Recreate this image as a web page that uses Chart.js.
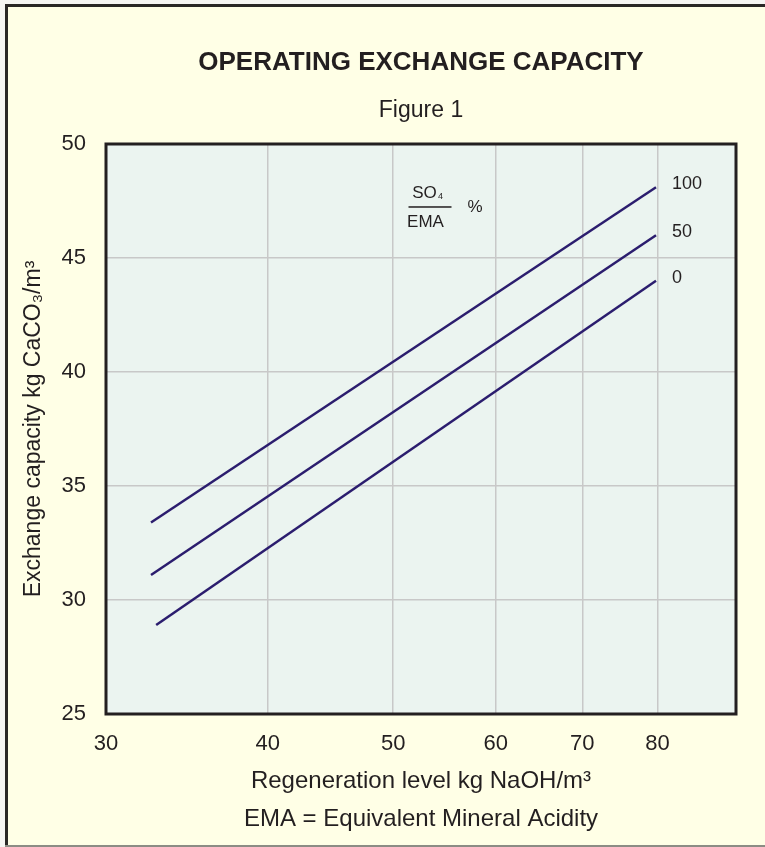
<!DOCTYPE html>
<html>
<head>
<meta charset="utf-8">
<script src="https://cdn.jsdelivr.net/npm/chart.js@4.4.1/dist/chart.umd.min.js"></script>
<style>
  html, body { margin: 0; padding: 0; background: #f6f6f3; }
  #wrap { width: 765px; height: 847px; position: relative; }
  canvas { display: block; }
</style>
</head>
<body>
<div id="wrap"><canvas id="c" width="765" height="847"></canvas></div>
<script>
// ---- data ----
const xTicks = [30, 40, 50, 60, 70, 80];
const yTicks = [25, 30, 35, 40, 45, 50];
const seriesNames = ['100', '50', '0'];
const regen100 = [32.5, 79.8];
const cap100   = [33.4, 48.1];
const regen50  = [32.5, 79.8];
const cap50    = [31.1, 46.0];
const regen0   = [32.8, 79.8];
const cap0     = [28.9, 44.0];
const chartTitle = 'OPERATING EXCHANGE CAPACITY';
const chartSubtitle = 'Figure 1';

const FONT = '"Liberation Sans", Arial, sans-serif';
const INK = '#231f20';
const LINE = '#2b1d6e';

function pts(xs, ys) { return xs.map((v, i) => ({ x: v, y: ys[i] })); }

const bgPlugin = {
  id: 'bg',
  beforeDraw(chart) {
    const { ctx, chartArea: a } = chart;
    ctx.save();
    ctx.fillStyle = '#f6f6f3';
    ctx.fillRect(0, 0, 765, 847);
    ctx.fillStyle = '#ffffe6';
    ctx.fillRect(5, 5, 760, 842);
    ctx.fillStyle = '#2a2826';
    ctx.fillRect(5, 4, 760, 3);
    ctx.fillRect(5, 4, 3, 843);
    ctx.fillStyle = '#8c8c84';
    ctx.fillRect(5, 845, 760, 2);
    ctx.fillStyle = '#ebf4f0';
    ctx.fillRect(a.left, a.top, a.right - a.left, a.bottom - a.top);
    ctx.restore();
  },
  afterDraw(chart) {
    const { ctx, chartArea: a } = chart;
    ctx.save();
    ctx.strokeStyle = INK;
    ctx.lineWidth = 3;
    ctx.strokeRect(a.left, a.top, a.right - a.left, a.bottom - a.top);
    // centred title + subtitle over the plot area
    const mid = (a.left + a.right) / 2;
    ctx.fillStyle = INK;
    ctx.textAlign = 'center';
    ctx.textBaseline = 'middle';
    ctx.font = 'bold 26px ' + FONT;
    ctx.fillText(chartTitle, mid, 63);
    ctx.font = '23px ' + FONT;
    ctx.fillText(chartSubtitle, mid, 111);
    ctx.restore();
  }
};

const overlay = {
  id: 'overlay',
  afterDatasetsDraw(chart) {
    const { ctx, chartArea: a, scales: { x, y } } = chart;
    ctx.save();
    ctx.fillStyle = INK;
    ctx.textBaseline = 'middle';
    ctx.textAlign = 'left';
    ctx.font = '18px ' + FONT;
    chart.data.datasets.forEach(ds => {
      const last = ds.data[ds.data.length - 1];
      ctx.fillText(ds.label, x.getPixelForValue(last.x) + 16, y.getPixelForValue(last.y) - 3);
    });
    // SO4 / EMA  %  key
    const cx = a.left + 0.5135 * (a.right - a.left);
    const cy = a.top + 0.1105 * (a.bottom - a.top);
    ctx.font = '17px ' + FONT;
    ctx.textAlign = 'center';
    ctx.fillText('SO', cx - 5, cy - 14);
    ctx.font = '9px ' + FONT;
    ctx.textAlign = 'left';
    ctx.fillText('4', cx + 8.5, cy - 10);
    ctx.fillRect(cx - 21, cy - 0.75, 43, 1.5);
    ctx.font = '17px ' + FONT;
    ctx.textAlign = 'center';
    ctx.fillText('EMA', cx - 4, cy + 15);
    ctx.textAlign = 'left';
    ctx.fillText('%', cx + 38, cy);
    ctx.restore();
  }
};

const capSeries = [cap100, cap50, cap0];
const regenSeries = [regen100, regen50, regen0];

new Chart(document.getElementById('c'), {
  type: 'line',
  data: {
    datasets: seriesNames.map((name, i) => ({
      label: name,
      data: pts(regenSeries[i], capSeries[i]),
      borderColor: LINE,
      borderWidth: 2.5,
      pointRadius: 0,
      fill: false,
      tension: 0
    }))
  },
  options: {
    responsive: false,
    animation: false,
    layout: { padding: { left: 0, right: 29, top: 144, bottom: 0 } },
    plugins: {
      legend: { display: false },
      tooltip: { enabled: false },
      title: { display: false },
      subtitle: { display: false }
    },
    scales: {
      x: {
        type: 'logarithmic',
        min: 30,
        max: 92,
        afterBuildTicks: s => { s.ticks = xTicks.map(v => ({ value: v })); },
        afterFit: s => { s.height = 133; },
        ticks: {
          autoSkip: false,
          maxRotation: 0,
          padding: 17,
          color: INK,
          font: { family: FONT, size: 22 },
          callback: v => String(v)
        },
        grid: { color: '#c8c8c8', lineWidth: 1.5, drawTicks: false },
        border: { display: false },
        title: {
          display: true,
          text: ['Regeneration level kg NaOH/m\u00B3', 'EMA = Equivalent Mineral Acidity'],
          color: INK,
          font: { family: FONT, size: 24, lineHeight: 1.6 },
          padding: { top: 0, bottom: 8 }
        }
      },
      y: {
        type: 'linear',
        min: 25,
        max: 50,
        afterBuildTicks: s => { s.ticks = yTicks.map(v => ({ value: v })); },
        afterFit: s => { s.width = 106; },
        ticks: {
          padding: 20,
          color: INK,
          font: { family: FONT, size: 22 }
        },
        grid: { color: '#c8c8c8', lineWidth: 1.5, drawTicks: false },
        border: { display: false },
        title: {
          display: true,
          text: 'Exchange capacity kg CaCO\u2083/m\u00B3',
          color: INK,
          font: { family: FONT, size: 23, lineHeight: 1.2 },
          padding: { top: 20, bottom: 0 }
        }
      }
    }
  },
  plugins: [bgPlugin, overlay]
});
</script>
</body>
</html>
